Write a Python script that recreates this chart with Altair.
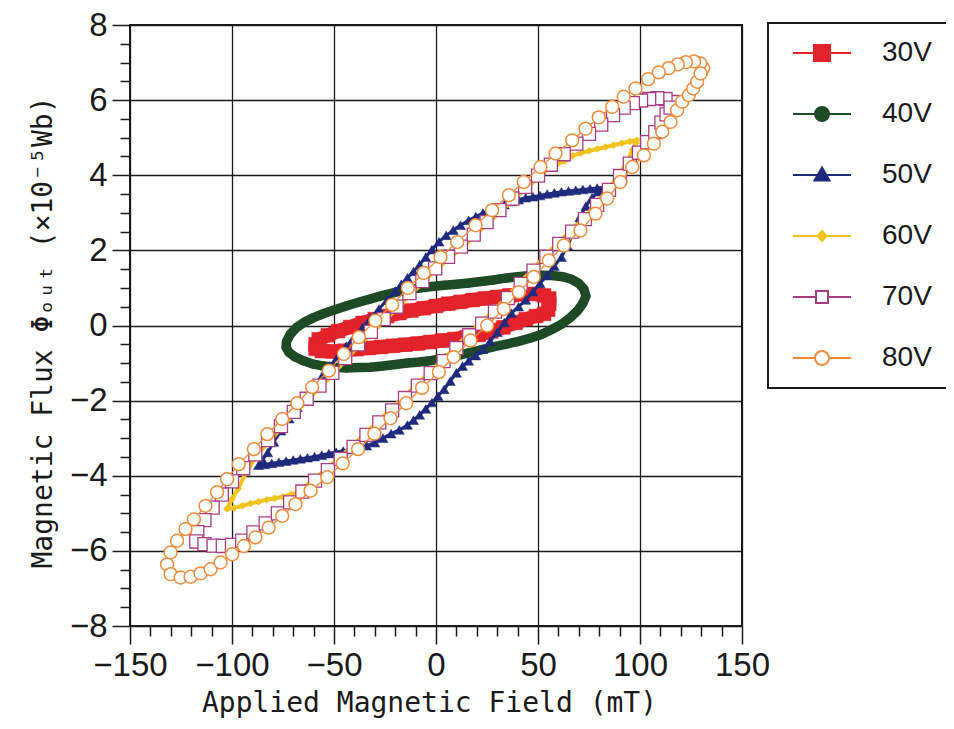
import altair as alt
import pandas as pd

SERIES = ["30V", "40V", "50V", "60V", "70V", "80V"]
STROKE = ["#e3232b", "#1e4b26", "#1f2a7c", "#f0c31c", "#a83e82", "#ef8b3c"]
FILL = ["#e3232b", "#1e4b26", "#1f2a7c", "#f0c31c", "#ffffff", "#ffffff"]
SHAPE = ["square", "circle", "triangle-up", "diamond", "square", "circle"]
SIZE = [190, 70, 100, 50, 170, 165]
MARK_STROKE_W = [0.5, 0.5, 0.5, 0.5, 1.3, 1.5]
LINE_W = [14, 9.5, 3, 4, 1.3, 1.3]
LEGEND_PATHS = [
    "M-2.9,0H2.9M-0.8,-0.8H0.8V0.8H-0.8Z",
    "M-2.9,0H2.9M-0.7,0A0.7,0.7,0,1,1,0.7,0A0.7,0.7,0,1,1,-0.7,0Z",
    "M-2.9,0H2.9M0,-0.75L0.75,0.55L-0.75,0.55Z",
    "M-2.9,0H2.9M0,-0.5L0.45,0L0,0.5L-0.45,0Z",
    "M-2.9,0H-0.6M0.6,0H2.9M-0.6,-0.6H0.6V0.6H-0.6Z",
    "M-2.9,0H-0.7M0.7,0H2.9M-0.7,0A0.7,0.7,0,1,1,0.7,0A0.7,0.7,0,1,1,-0.7,0Z",
]

X_MAJOR = [-150, -100, -50, 0, 50, 100, 150]
X_MINOR = [-140, -130, -120, -110, -90, -80, -70, -60, -40, -30, -20, -10,
           10, 20, 30, 40, 60, 70, 80, 90, 110, 120, 130, 140]
Y_MAJOR = [-8, -6, -4, -2, 0, 2, 4, 6, 8]
Y_MINOR = [-7.5, -7, -6.5, -5.5, -5, -4.5, -3.5, -3, -2.5, -1.5, -1, -0.5,
           0.5, 1, 1.5, 2.5, 3, 3.5, 4.5, 5, 5.5, 6.5, 7, 7.5]

LOOP_30V = [(55.5, 0.72), (53.0, 0.80), (48.0, 0.84), (42.0, 0.83), (36.0, 0.80), (30.0, 0.76),
            (24.0, 0.72), (18.0, 0.68), (12.0, 0.63), (6.0, 0.58), (0.0, 0.52), (-6.0, 0.46),
            (-12.0, 0.40), (-18.0, 0.33), (-24.0, 0.25), (-30.0, 0.17), (-36.0, 0.07), (-42.0, -0.04),
            (-48.0, -0.15), (-53.0, -0.26), (-57.5, -0.37), (-59.0, -0.50), (-59.0, -0.62),
            (-56.0, -0.68), (-51.0, -0.69), (-45.0, -0.67), (-39.0, -0.63), (-33.0, -0.60), (-27.0, -0.57),
            (-21.0, -0.54), (-15.0, -0.51), (-9.0, -0.48), (-3.0, -0.44), (3.0, -0.40), (9.0, -0.36),
            (15.0, -0.31), (21.0, -0.25), (27.0, -0.16), (33.0, -0.05), (39.0, 0.07), (44.0, 0.17),
            (49.0, 0.25), (53.0, 0.31), (55.0, 0.42), (55.5, 0.58)]

LOOP_40V = [(73.5, 0.78), (72.5, 0.97), (70.0, 1.12), (66.5, 1.23), (62.0, 1.30), (57.0, 1.33),
            (51.5, 1.34), (46.0, 1.33), (40.0, 1.30), (34.0, 1.26), (28.0, 1.21), (22.0, 1.17),
            (16.0, 1.13), (10.0, 1.10), (4.0, 1.07), (-2.0, 1.04), (-8.0, 1.00), (-14.0, 0.95),
            (-20.0, 0.88), (-26.0, 0.80), (-32.0, 0.71), (-38.0, 0.62), (-44.0, 0.52), (-50.0, 0.41),
            (-55.0, 0.32), (-60.0, 0.21), (-64.5, 0.09), (-68.5, -0.06), (-71.5, -0.24), (-73.3, -0.43),
            (-73.5, -0.58), (-72.0, -0.72), (-69.0, -0.84), (-65.0, -0.94), (-60.0, -1.03), (-55.0, -1.08),
            (-50.0, -1.11), (-44.0, -1.13), (-38.0, -1.12), (-32.0, -1.11), (-26.0, -1.08), (-20.0, -1.04),
            (-14.0, -1.00), (-8.0, -0.97), (-2.0, -0.93), (4.0, -0.88), (10.0, -0.81), (16.0, -0.73),
            (22.0, -0.65), (28.0, -0.57), (34.0, -0.50), (40.0, -0.43), (46.0, -0.34), (52.0, -0.23),
            (57.0, -0.10), (62.0, 0.05), (66.0, 0.22), (69.5, 0.40), (72.0, 0.59)]

LOOP_50V = [(82.5, 3.68), (79.0, 3.66), (75.5, 3.64), (72.0, 3.62), (68.5, 3.60), (65.0, 3.58),
            (61.5, 3.56), (58.0, 3.53), (54.5, 3.50), (51.0, 3.46), (47.5, 3.43), (44.0, 3.40),
            (40.5, 3.35), (37.0, 3.30), (33.5, 3.22), (30.0, 3.15), (26.5, 3.07), (23.0, 2.99),
            (19.5, 2.90), (16.0, 2.80), (12.0, 2.67), (8.5, 2.54), (5.0, 2.40), (1.5, 2.23),
            (-2.0, 2.02), (-5.0, 1.82), (-8.0, 1.62), (-11.0, 1.44), (-14.0, 1.27), (-17.0, 1.10),
            (-20.0, 0.92), (-24.0, 0.68), (-28.0, 0.44), (-32.0, 0.20), (-36.0, -0.05), (-40.0, -0.30),
            (-44.0, -0.55), (-48.0, -0.82), (-52.0, -1.08), (-56.0, -1.36), (-60.0, -1.63), (-64.0, -1.90),
            (-68.0, -2.18), (-72.0, -2.48), (-76.0, -2.80), (-79.5, -3.10), (-82.5, -3.38), (-85.0, -3.58),
            (-87.0, -3.72), (-84.0, -3.70), (-80.5, -3.67), (-77.0, -3.64), (-73.5, -3.61), (-70.0, -3.58),
            (-66.5, -3.55), (-63.0, -3.52), (-59.5, -3.49), (-56.0, -3.45), (-52.5, -3.41), (-49.0, -3.37),
            (-45.5, -3.34), (-42.0, -3.30), (-38.0, -3.25), (-34.0, -3.20), (-30.0, -3.12), (-26.0, -3.00),
            (-22.0, -2.88), (-18.0, -2.78), (-14.0, -2.65), (-11.0, -2.52), (-8.0, -2.38), (-5.0, -2.22),
            (-2.0, -2.05), (1.0, -1.88), (4.0, -1.70), (7.0, -1.48), (10.0, -1.26), (13.0, -1.08),
            (16.0, -0.94), (19.5, -0.80), (23.0, -0.63), (26.5, -0.42), (30.0, -0.18), (33.5, 0.08),
            (37.0, 0.33), (40.5, 0.50), (44.0, 0.68), (47.5, 0.90), (51.0, 1.12), (54.5, 1.34),
            (58.0, 1.58), (61.5, 1.82), (64.5, 2.12), (67.5, 2.50), (70.5, 2.88), (73.5, 3.18),
            (76.5, 3.40), (79.5, 3.56), (82.0, 3.65)]

LOOP_60V = [(98.5, 4.93), (95.0, 4.90), (91.0, 4.85), (87.0, 4.80), (83.0, 4.75), (79.0, 4.70),
            (75.0, 4.65), (71.0, 4.59), (67.0, 4.52), (63.0, 4.38), (59.5, 4.30), (56.3, 4.22),
            (50.0, 3.93), (43.7, 3.63), (37.4, 3.32), (31.1, 3.01), (24.8, 2.69), (18.5, 2.36),
            (12.2, 2.04), (5.9, 1.77), (-0.4, 1.46), (-6.7, 1.12), (-13.0, 0.80), (-19.3, 0.44),
            (-25.6, 0.11), (-31.9, -0.23), (-38.2, -0.56), (-44.5, -0.93), (-50.8, -1.32), (-57.1, -1.66),
            (-63.4, -2.01), (-69.7, -2.36), (-76.0, -2.74), (-82.3, -3.11), (-88.6, -3.52), (-93.5, -3.95),
            (-97.0, -4.35), (-100.0, -4.62), (-102.5, -4.88), (-99.0, -4.86), (-95.0, -4.80), (-91.0, -4.74),
            (-87.0, -4.69), (-83.0, -4.64), (-79.0, -4.60), (-75.0, -4.56), (-71.0, -4.50), (-67.0, -4.42),
            (-63.5, -4.28), (-59.3, -4.07), (-53.0, -3.79), (-46.7, -3.49), (-40.4, -3.17), (-34.1, -2.85),
            (-27.8, -2.52), (-21.5, -2.20), (-15.2, -1.87), (-8.9, -1.54), (-2.6, -1.21), (3.7, -0.89),
            (10.0, -0.54), (16.3, -0.20), (22.6, 0.11), (28.9, 0.43), (35.2, 0.79), (41.5, 1.17),
            (47.8, 1.52), (54.1, 1.89), (60.4, 2.23), (66.7, 2.56), (73.0, 2.89), (79.0, 3.27),
            (84.8, 3.67), (90.2, 4.04), (94.0, 4.40), (96.5, 4.68), (98.0, 4.86)]

LOOP_70V = [(116.0, 5.95), (112.5, 6.03), (108.5, 6.05), (104.5, 6.03), (100.5, 5.99), (96.5, 5.92),
            (92.0, 5.80), (86.8, 5.60), (81.0, 5.35), (75.0, 5.10), (68.8, 4.84), (62.6, 4.56),
            (56.3, 4.28), (50.0, 3.99), (43.7, 3.69), (37.4, 3.38), (31.1, 3.07), (24.8, 2.75),
            (18.5, 2.42), (12.2, 2.10), (5.9, 1.83), (-0.4, 1.52), (-6.7, 1.18), (-13.0, 0.86),
            (-19.3, 0.50), (-25.6, 0.17), (-31.9, -0.17), (-38.2, -0.50), (-44.5, -0.87), (-50.8, -1.26),
            (-57.1, -1.60), (-63.4, -1.95), (-69.7, -2.30), (-76.0, -2.68), (-82.3, -3.05), (-88.6, -3.43),
            (-94.5, -3.80), (-100.0, -4.15), (-105.0, -4.50), (-109.5, -4.85), (-113.5, -5.18), (-117.0, -5.50),
            (-117.5, -5.75), (-113.5, -5.82), (-109.0, -5.86), (-104.5, -5.87), (-100.0, -5.84), (-95.0, -5.73),
            (-89.5, -5.51), (-83.5, -5.27), (-77.5, -5.00), (-71.5, -4.71), (-65.5, -4.42), (-59.3, -4.13),
            (-53.0, -3.85), (-46.7, -3.55), (-40.4, -3.23), (-34.1, -2.91), (-27.8, -2.58), (-21.5, -2.26),
            (-15.2, -1.93), (-8.9, -1.60), (-2.6, -1.27), (3.7, -0.95), (10.0, -0.60), (16.3, -0.26),
            (22.6, 0.05), (28.9, 0.37), (35.2, 0.73), (41.5, 1.11), (47.8, 1.46), (54.1, 1.83),
            (60.4, 2.17), (66.7, 2.50), (73.0, 2.83), (79.0, 3.21), (84.8, 3.61), (90.2, 3.98),
            (95.0, 4.31), (99.5, 4.60), (103.5, 4.88), (107.5, 5.15), (110.5, 5.40), (113.0, 5.62),
            (115.0, 5.80)]

LOOP_80V = [(131.0, 6.85), (129.5, 6.98), (126.5, 7.03), (122.5, 7.01), (118.5, 6.95), (114.0, 6.85),
            (109.2, 6.74), (104.0, 6.56), (97.8, 6.31), (92.0, 6.09), (86.4, 5.82), (79.8, 5.54),
            (73.3, 5.24), (66.8, 4.93), (58.6, 4.58), (51.2, 4.22), (43.0, 3.82), (35.7, 3.47),
            (27.5, 3.07), (19.4, 2.67), (10.4, 2.22), (2.2, 1.82), (-6.0, 1.40), (-13.8, 1.00),
            (-21.5, 0.55), (-29.7, 0.13), (-37.8, -0.31), (-45.2, -0.76), (-52.5, -1.20), (-60.7, -1.64),
            (-68.0, -2.07), (-75.4, -2.49), (-82.7, -2.89), (-89.3, -3.29), (-96.7, -3.69), (-102.4, -4.09),
            (-107.3, -4.44), (-113.0, -4.80), (-118.7, -5.16), (-122.8, -5.42), (-126.9, -5.73), (-130.1, -6.04),
            (-131.8, -6.36), (-130.1, -6.62), (-125.2, -6.71), (-120.3, -6.69), (-115.4, -6.60), (-110.5, -6.49),
            (-105.6, -6.31), (-99.9, -6.09), (-94.2, -5.87), (-88.5, -5.64), (-82.0, -5.38), (-75.4, -5.07),
            (-68.9, -4.76), (-61.5, -4.40), (-53.3, -4.04), (-45.7, -3.67), (-38.2, -3.29), (-30.2, -2.88),
            (-22.3, -2.47), (-14.6, -2.07), (-6.8, -1.66), (1.4, -1.24), (8.7, -0.84), (16.9, -0.40),
            (25.1, 0.00), (33.2, 0.44), (40.6, 0.89), (47.9, 1.29), (55.3, 1.73), (62.7, 2.13),
            (70.8, 2.53), (78.2, 2.98), (83.9, 3.38), (90.4, 3.82), (96.2, 4.22), (101.9, 4.53),
            (106.8, 4.84), (110.9, 5.16), (115.0, 5.42), (118.2, 5.73), (120.7, 5.96), (123.9, 6.13),
            (126.1, 6.31), (128.0, 6.49), (129.7, 6.71)]

LOOPS = [LOOP_30V, LOOP_40V, LOOP_50V, LOOP_60V, LOOP_70V, LOOP_80V]

LABEL_FONT = "Liberation Sans, Arial, sans-serif"
TITLE_FONT = "DejaVu Sans Mono, Liberation Mono, monospace"
INK = "#1a1a1a"

XS = alt.Scale(domain=[-150, 150], nice=False, zero=False)
YS = alt.Scale(domain=[-8, 8], nice=False, zero=False)

AX_DF = pd.DataFrame({"x": [0.0], "y": [0.0]})

major = alt.Chart(AX_DF).transform_filter("false").mark_point().encode(
    x=alt.X("x:Q", scale=XS, axis=alt.Axis(
        values=X_MAJOR, orient="bottom", title="Applied Magnetic Field (mT)",
        grid=True, gridColor=INK, gridWidth=1.3, gridOpacity=1, domain=False,
        ticks=True, tickSize=18, tickWidth=1.5, tickColor=INK,
        labelFont=LABEL_FONT, labelFontSize=33, labelColor=INK, labelPadding=5,
        labelFlush=False, labelOverlap=False,
        titleFont=TITLE_FONT, titleFontSize=28, titleFontWeight="normal", titleColor=INK,
        titleBaseline="alphabetic", titleAlign="center", titleX=299, titleY=85)),
    y=alt.Y("y:Q", scale=YS, axis=alt.Axis(
        values=Y_MAJOR, orient="left", title="Magnetic Flux Φₒᵤₜ (×10⁻⁵Wb)",
        grid=True, gridColor=INK, gridWidth=1.3, gridOpacity=1, domain=False,
        ticks=True, tickSize=18, tickWidth=1.5, tickColor=INK,
        labelFont=LABEL_FONT, labelFontSize=33, labelColor=INK, labelPadding=5,
        labelFlush=False, labelOverlap=False,
        titleFont=TITLE_FONT, titleFontSize=28, titleFontWeight="normal", titleColor=INK,
        titleAngle=270, titleBaseline="alphabetic", titleAlign="center", titleX=-79, titleY=307)),
)

minor = alt.Chart(AX_DF).transform_filter("false").mark_point().encode(
    x=alt.X("x:Q", scale=XS, axis=alt.Axis(
        values=X_MINOR, orient="bottom", title=None, grid=False, domain=False, labels=False,
        ticks=True, tickSize=10, tickWidth=1.5, tickColor=INK)),
    y=alt.Y("y:Q", scale=YS, axis=alt.Axis(
        values=Y_MINOR, orient="left", title=None, grid=False, domain=False, labels=False,
        ticks=True, tickSize=10, tickWidth=1.5, tickColor=INK)),
)

layers = [major, minor]
for i, loop in enumerate(LOOPS):
    df = pd.DataFrame({"x": [p[0] for p in loop], "y": [p[1] for p in loop],
                       "k": list(range(len(loop)))})
    base = alt.Chart(df).encode(
        x=alt.X("x:Q", scale=XS, axis=None),
        y=alt.Y("y:Q", scale=YS, axis=None),
    )
    layers.append(base.mark_line(color=STROKE[i], strokeWidth=LINE_W[i],
                                 interpolate="linear-closed", strokeJoin="round").encode(order="k:Q"))
    layers.append(base.mark_point(shape=SHAPE[i], size=SIZE[i], filled=True, fill=FILL[i],
                                  stroke=STROKE[i], strokeWidth=MARK_STROKE_W[i], opacity=1))

LEG_DF = pd.DataFrame({"series": SERIES})
legend_layer = alt.Chart(LEG_DF).transform_filter("false").mark_point(
    filled=False, opacity=1, strokeWidth=2).encode(
    color=alt.Color("series:N", scale=alt.Scale(domain=SERIES, range=STROKE), legend=alt.Legend(
        orient="none", legendX=638, legendY=-2, title=None, padding=16,
        strokeColor=INK, fillColor="white", symbolSize=400, symbolStrokeWidth=2,
        symbolFillColor="white", symbolOffset=24, labelOffset=46,
        labelFont=LABEL_FONT, labelFontSize=28, labelColor=INK, rowPadding=33,
        direction="vertical")),
    fill=alt.Fill("series:N", scale=alt.Scale(domain=SERIES, range=FILL)),
    shape=alt.Shape("series:N", scale=alt.Scale(domain=SERIES, range=LEGEND_PATHS)),
)
layers.append(legend_layer)

chart = alt.layer(*layers).resolve_axis(x="independent", y="independent").properties(
    width=612, height=601,
    autosize=alt.AutoSizeParams(type="none"),
    padding={"left": 122, "top": 17, "right": 204, "bottom": 95},
    background="white",
).configure_view(stroke=INK, strokeWidth=2).configure_legend(strokeWidth=2)

chart.save("out.html", embed_options={"renderer": "svg", "actions": False})
